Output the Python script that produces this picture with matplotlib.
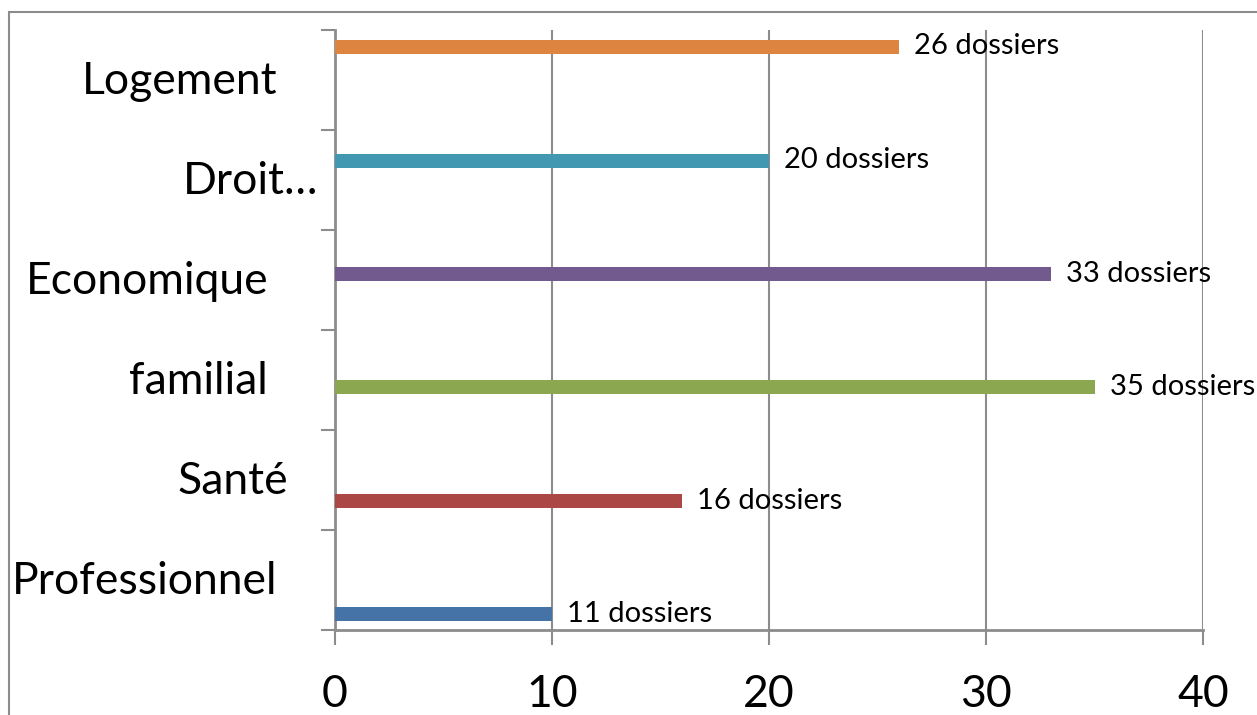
import matplotlib
matplotlib.use('Agg')
import matplotlib.pyplot as plt
import matplotlib.transforms as mtransforms
from matplotlib.patches import Rectangle

# Data
categories = ['Professionnel', 'Santé', 'familial', 'Economique', 'Droit…', 'Logement']
values = [10, 16, 35, 33, 20, 26]
value_labels = ['11 dossiers', '16 dossiers', '35 dossiers', '33 dossiers', '20 dossiers', '26 dossiers']
bar_pos = [0.16, 1.29, 2.43, 3.56, 4.695, 5.835]   # bars sit off-centre in the original
colors = ['#4573A7', '#AB4846', '#8BA74F', '#725A8F', '#4198B0', '#DD8441']
x_ticks = [0, 10, 20, 30, 40]

# right edge of each category label, in figure pixels
label_right_px = [277, 288, 268, 268, 318, 277]

W, H = 1257, 715
fig = plt.figure(figsize=(W / 100, H / 100), dpi=100)
plt.rcParams['font.family'] = ['Lato', 'DejaVu Sans']

# outer chart frame (only left / top edges visible)
fig.patches.append(Rectangle((9 / W, -0.1), 1.2, (H - 12) / H + 0.1,
                             transform=fig.transFigure, fill=False,
                             edgecolor='#8C8C8C', linewidth=1.5))

ax = fig.add_axes([335 / W, (H - 630) / H, (1203 - 335) / W, 600 / H])

ax.barh(bar_pos, values, height=0.14, color=colors, zorder=3)

for y, v, lab in zip(bar_pos, values, value_labels):
    ax.annotate(lab, (v, y), xytext=(11, 0), textcoords='offset points',
                va='center', ha='left', fontsize=21, color='black', zorder=4)

ax.set_xlim(0, 40)
ax.set_ylim(0, 6)
ax.set_xticks(x_ticks)
ax.set_xticklabels([str(t) for t in x_ticks], fontsize=32)
ax.set_yticks(range(0, 7))
ax.set_yticklabels([])
ax.tick_params(axis='x', length=11, width=1.5, color='#8C8C8C', pad=21)
ax.tick_params(axis='y', length=10, width=1.5, color='#8C8C8C')
ax.grid(axis='x', color='#8C8C8C', linewidth=1.5, zorder=0)
ax.set_axisbelow(True)

for s in ['top', 'right']:
    ax.spines[s].set_visible(False)
for s in ['left', 'bottom']:
    ax.spines[s].set_color('#8C8C8C')
    ax.spines[s].set_linewidth(2)

# category labels, placed like Excel's wrapped axis labels
for i, (cat, xr) in enumerate(zip(categories, label_right_px)):
    trans = mtransforms.blended_transform_factory(fig.transFigure, ax.transData)
    ax.text(xr / W, i + 0.36, cat, transform=trans, ha='right', va='baseline',
            fontsize=32, color='black', clip_on=False)

fig.savefig('out.png', dpi=100)
